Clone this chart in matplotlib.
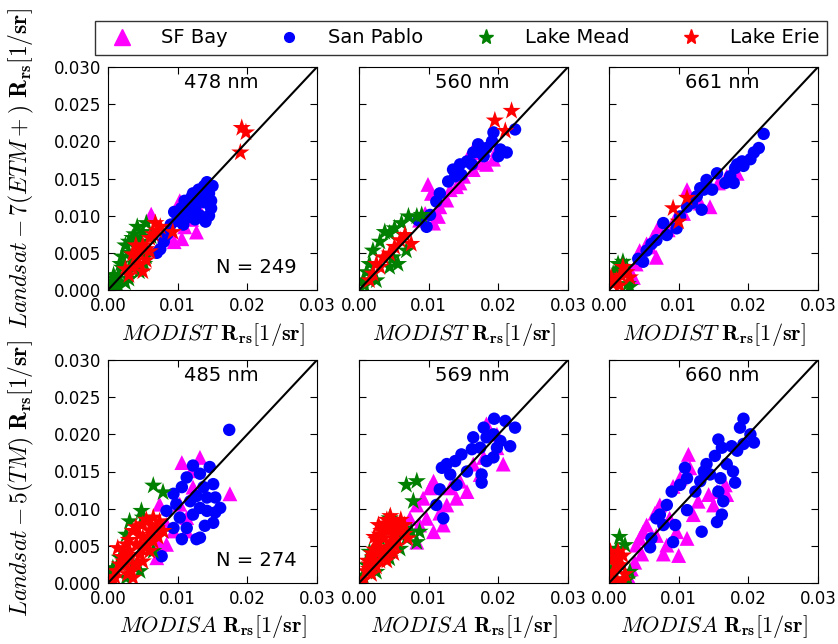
import matplotlib
matplotlib.use('Agg')
import matplotlib.pyplot as plt
import numpy as np
from matplotlib.ticker import FormatStrFormatter
from matplotlib.lines import Line2D

# values in units of 1e-3 sr^-1, (MODIS, Landsat) pairs
sfbay_478 = [(6.2, 10.2), (10.6, 6.9), (12.7, 7.8), (10.3, 12.0), (9.0, 8.0), (8.5, 7.0),
             (11.0, 8.5), (12.0, 9.5), (13.0, 11.0), (10.5, 10.8), (9.5, 6.5)]
sanpablo_478 = [(9.0, 8.8), (9.5, 10.5), (10.0, 9.8), (10.5, 11.0), (11.0, 12.0), (11.2, 10.5),
                (11.8, 11.5), (12.0, 12.5), (12.5, 11.0), (12.8, 12.0), (13.0, 13.5), (13.5, 12.8),
                (13.8, 14.0), (14.2, 14.5), (14.5, 13.0), (14.8, 12.0), (14.5, 10.0), (14.0, 9.2),
                (13.2, 10.0), (12.5, 9.5), (11.5, 9.8), (10.8, 8.8), (8.0, 6.5), (7.5, 5.5),
                (8.5, 7.5), (15.0, 14.0), (14.8, 11.0), (13.8, 11.8), (12.2, 13.0), (10.0, 9.3),
                (7.0, 5.0)]
mead_478 = [(0.2, 0.3), (0.5, 1.0), (1.0, 1.5), (1.2, 0.8), (1.5, 2.0), (2.0, 3.0), (2.0, 4.5),
            (2.5, 6.0), (3.0, 6.5), (3.5, 7.0), (3.8, 7.5), (4.2, 8.5), (5.5, 9.0), (5.0, 7.8),
            (4.5, 6.0), (3.0, 5.0), (3.5, 4.2), (4.0, 3.5), (4.5, 2.5), (3.0, 1.5), (2.5, 1.0),
            (1.5, 0.5), (1.0, 0.3), (5.5, 4.5), (5.2, 3.5), (0.8, 2.0), (3.0, 2.5), (1.8, 3.5),
            (4.8, 6.5), (6.2, 7.2)]
erie_478 = [(19.2, 21.8), (19.8, 21.2), (19.0, 18.5), (9.3, 7.8), (3.0, 2.0), (3.5, 3.0),
            (4.0, 4.5), (4.5, 5.0), (5.0, 6.0), (5.5, 5.5), (6.0, 7.0), (6.5, 7.5), (7.0, 8.0),
            (7.5, 8.5), (3.5, 4.8), (4.5, 3.5), (5.0, 2.5), (5.5, 4.0), (2.5, 2.8), (4.0, 6.0),
            (6.8, 9.0), (6.0, 5.2)]

sfbay_560 = [(9.9, 14.2), (10.4, 13.0), (11.4, 9.9), (10.7, 9.0), (12.6, 12.1), (14.0, 13.9),
             (15.5, 17.6), (16.2, 18.5), (17.4, 17.1), (18.3, 16.9), (19.3, 17.6), (19.8, 18.9),
             (11.6, 11.2), (13.1, 13.5), (15.0, 15.3), (16.4, 16.2), (8.7, 9.4), (9.5, 10.3),
             (14.5, 14.4)]
sanpablo_560 = [(22.4, 21.6), (19.3, 21.2), (19.1, 20.0), (20.3, 18.9), (21.2, 18.5), (18.3, 19.1),
                (17.4, 18.5), (16.4, 18.5), (15.5, 17.3), (14.5, 16.9), (13.5, 16.2), (12.8, 14.6),
                (13.8, 15.3), (14.7, 15.5), (16.2, 16.9), (17.9, 18.0), (20.0, 18.0), (11.6, 13.0),
                (11.1, 11.9), (10.2, 10.1), (9.7, 8.5), (8.5, 9.4), (17.1, 19.6)]
mead_560 = [(7.1, 9.9), (6.1, 9.0), (5.1, 8.3), (4.4, 7.6), (3.7, 7.8), (3.0, 6.5), (2.0, 5.3),
            (1.5, 3.5), (1.1, 2.4), (0.6, 1.3), (0.8, 0.6), (2.5, 1.3), (4.4, 3.1), (5.6, 3.5),
            (6.8, 5.3), (4.9, 4.4), (8.3, 9.9), (9.0, 10.1)]
erie_560 = [(21.9, 24.1), (19.5, 22.8), (21.0, 21.4), (7.5, 6.2), (6.6, 7.4), (5.1, 5.8),
            (3.5, 4.4), (3.0, 3.1), (2.0, 2.2), (4.4, 4.9), (5.9, 6.7), (1.5, 1.3), (2.5, 3.5)]

sfbay_661 = [(11.2, 13.5), (12.1, 12.1), (14.5, 11.2), (10.7, 10.3), (9.5, 9.6), (7.1, 8.5),
             (6.3, 7.1), (5.9, 5.8), (6.8, 4.4), (4.4, 5.3), (3.9, 3.5), (3.0, 2.6), (3.5, 1.7),
             (16.9, 15.3), (18.4, 15.7), (15.7, 14.4), (13.1, 11.7), (8.5, 8.1), (5.4, 6.2)]
sanpablo_661 = [(22.2, 21.0), (21.5, 19.1), (20.8, 18.5), (20.3, 17.6), (19.1, 17.3), (18.4, 16.9),
                (18.1, 16.4), (17.9, 14.4), (16.7, 14.4), (15.5, 15.7), (14.0, 14.8), (14.8, 13.5),
                (13.6, 13.5), (13.1, 13.7), (12.6, 12.6), (13.3, 10.8), (11.9, 11.7), (11.2, 11.2),
                (10.2, 9.9), (9.7, 8.3), (7.8, 9.0), (8.3, 7.4), (6.8, 6.7), (6.1, 6.2), (5.4, 5.3),
                (4.9, 3.8), (4.2, 4.2), (19.3, 16.7), (17.4, 15.3)]
mead_661 = [(0.6, 2.2), (1.3, 3.5), (2.0, 3.8), (2.5, 3.1), (2.7, 0.8), (0.3, 1.3), (1.5, 2.6),
            (3.0, 0.4)]
erie_661 = [(9.2, 11.0), (11.2, 12.4), (10.0, 9.2), (0.6, 0.8), (1.1, 1.3), (1.8, 1.9), (2.5, 2.4),
            (3.0, 1.7), (1.5, 0.6), (0.3, 1.7), (2.0, 3.1)]

sfbay_485 = [(10.6, 16.2), (13.2, 16.9), (17.5, 12.0), (7.4, 10.6), (8.4, 7.9), (9.4, 7.0),
             (7.4, 5.2), (7.0, 3.4), (11.3, 8.8), (12.0, 15.1), (11.3, 7.0), (8.4, 5.2), (6.5, 7.0),
             (10.3, 10.6), (12.2, 12.9)]
sanpablo_485 = [(17.4, 20.6), (12.2, 15.8), (14.6, 15.6), (11.3, 14.2), (13.2, 14.7), (10.6, 12.9),
                (9.4, 12.0), (13.7, 12.9), (15.1, 13.3), (12.7, 11.7), (11.8, 11.0), (14.2, 11.5),
                (15.4, 11.5), (13.2, 10.1), (12.2, 9.2), (14.2, 9.7), (15.4, 9.5), (15.1, 8.1),
                (13.9, 7.7), (13.2, 6.1), (12.7, 5.9), (10.6, 5.9), (8.4, 9.7), (7.7, 3.6),
                (10.3, 8.8), (9.4, 7.4), (11.3, 7.4), (9.8, 10.6), (16.1, 10.1)]
mead_485 = [(6.5, 13.1), (7.9, 12.2), (4.8, 9.7), (3.1, 8.3), (5.0, 8.8), (2.6, 6.5), (1.7, 3.4),
            (0.7, 2.0), (0.5, 0.9), (6.5, 4.3), (7.9, 7.0), (3.6, 2.5), (2.6, 0.7), (4.6, 1.6)]
erie_485 = [(1.2, 1.6), (2.2, 2.9), (3.1, 4.3), (4.1, 5.2), (5.0, 6.1), (6.0, 7.0), (7.0, 7.4),
            (7.9, 7.0), (7.4, 8.3), (6.5, 8.8), (5.0, 7.9), (3.6, 7.0), (2.6, 5.2), (2.2, 4.3),
            (1.7, 2.5), (3.6, 0.7), (4.1, 2.5), (5.0, 2.9), (6.0, 4.3), (6.5, 5.6), (3.4, 1.6),
            (0.7, 0.5), (4.6, 3.8), (5.5, 5.2), (2.6, 2.5), (1.4, 4.7), (2.0, 3.5), (3.0, 5.8),
            (4.0, 7.5), (5.5, 8.5), (6.2, 7.8), (4.5, 6.5), (3.2, 3.5), (1.0, 0.8), (2.8, 1.2),
            (5.8, 6.2), (7.2, 6.2), (4.8, 4.6)]

sfbay_569 = [(11.6, 9.4), (12.1, 7.8), (10.7, 6.9), (8.3, 5.5), (8.7, 7.8), (9.7, 8.7),
             (10.7, 13.7), (10.2, 12.8), (9.2, 11.4), (8.3, 10.5), (7.3, 8.7), (14.0, 11.4),
             (15.5, 12.3), (17.4, 14.6), (19.8, 18.2), (20.7, 16.0), (17.9, 16.9), (16.4, 16.0),
             (18.3, 21.4), (13.1, 12.8), (14.5, 13.7), (12.6, 10.5), (19.8, 20.0)]
sanpablo_569 = [(19.4, 22.1), (22.4, 20.9), (21.0, 21.8), (17.9, 20.9), (19.3, 20.0), (21.7, 18.4),
                (20.3, 19.1), (18.3, 19.6), (16.4, 19.6), (17.4, 18.2), (19.3, 16.9), (18.3, 16.4),
                (16.2, 18.0), (14.7, 17.3), (13.8, 16.4), (12.6, 16.0), (11.9, 15.5), (15.5, 15.0),
                (17.6, 14.6), (17.6, 13.5), (13.1, 14.6), (11.6, 12.6), (11.1, 10.5), (12.1, 8.7),
                (14.0, 13.2), (19.8, 18.2)]
mead_569 = [(6.8, 13.2), (8.3, 13.7), (7.8, 11.0), (4.4, 8.7), (5.4, 6.9), (6.3, 7.3), (7.5, 6.9),
            (8.3, 5.5), (5.9, 4.6), (3.0, 6.0), (1.5, 4.2), (1.1, 2.4), (0.6, 1.0), (2.5, 1.5),
            (4.4, 3.3), (6.8, 6.0), (2.0, 3.3), (8.7, 6.9)]
erie_569 = [(1.0, 1.6), (1.5, 2.5), (2.0, 3.5), (2.2, 4.5), (2.8, 5.5), (3.0, 6.5), (3.5, 7.5),
            (4.0, 8.5), (4.5, 9.0), (5.0, 8.2), (5.5, 7.8), (6.0, 7.0), (6.5, 6.6), (7.0, 6.0),
            (5.0, 6.5), (4.5, 5.5), (4.0, 4.8), (3.5, 4.0), (3.0, 3.0), (2.5, 2.2), (1.8, 1.2),
            (4.0, 3.0), (5.0, 4.0), (2.5, 5.8), (3.2, 7.0), (4.2, 7.0), (5.5, 5.8), (0.7, 0.5),
            (1.2, 3.0), (3.5, 6.0), (6.0, 8.5), (1.8, 4.0), (2.2, 6.2), (2.8, 7.8), (3.8, 8.0),
            (4.8, 7.2), (3.0, 4.6), (2.0, 2.8), (1.4, 1.9), (6.5, 7.8), (5.2, 5.0), (3.8, 3.6)]

sfbay_660 = [(11.4, 17.3), (11.6, 15.5), (10.2, 14.1), (9.2, 13.0), (7.3, 10.5), (6.6, 9.4),
             (5.4, 7.8), (4.9, 6.9), (4.4, 6.0), (3.9, 5.1), (3.7, 2.8), (4.7, 3.9), (7.8, 3.9),
             (10.0, 3.7), (8.3, 5.1), (9.7, 6.9), (12.1, 9.2), (12.8, 11.0), (14.3, 11.9),
             (15.5, 12.3), (16.7, 13.2), (16.9, 11.9), (15.0, 10.5), (11.2, 6.0), (6.8, 6.4),
             (8.7, 8.7), (2.7, 1.0), (3.2, 1.9)]
sanpablo_660 = [(19.3, 22.1), (18.8, 20.9), (20.3, 20.0), (20.8, 18.9), (19.3, 18.7), (17.6, 18.4),
                (18.4, 17.8), (15.7, 19.3), (16.2, 18.2), (15.2, 17.1), (14.0, 16.0), (14.5, 14.6),
                (16.9, 16.0), (17.8, 15.0), (18.1, 13.5), (16.0, 14.1), (15.7, 12.3), (16.4, 11.0),
                (16.2, 9.2), (15.5, 8.2), (13.3, 6.9), (10.9, 15.5), (11.2, 14.1), (10.2, 13.2),
                (9.0, 12.3), (8.3, 10.5), (7.3, 9.2), (6.8, 8.7), (7.8, 7.8), (9.5, 7.8),
                (11.2, 9.8), (12.4, 12.3), (13.1, 13.7), (9.2, 5.5), (5.9, 4.8), (6.1, 6.0),
                (13.6, 15.0)]
mead_660 = [(1.5, 6.2), (1.1, 4.6), (2.3, 5.1), (0.6, 3.3), (3.0, 1.5), (2.7, 0.5), (0.3, 1.5)]
erie_660 = [(0.3, 0.3), (0.6, 1.5), (1.1, 2.4), (1.5, 3.3), (2.0, 3.7), (0.6, 3.3), (1.3, 4.2),
            (1.8, 2.4), (2.3, 1.2), (1.1, 0.5), (2.0, 0.3), (0.2, 4.2)]

sites = ['SF Bay', 'San Pablo', 'Lake Mead', 'Lake Erie']
colors = ['#ff00ff', '#0000ff', '#008000', '#ff0000']
markers = ['^', 'o', '*', '*']
sizes = [115, 80, 190, 190]

bands_top = ['478 nm', '560 nm', '661 nm']
bands_bottom = ['485 nm', '569 nm', '660 nm']
n_top = 249
n_bottom = 274

panels = [
    [sfbay_478, sanpablo_478, mead_478, erie_478],
    [sfbay_560, sanpablo_560, mead_560, erie_560],
    [sfbay_661, sanpablo_661, mead_661, erie_661],
    [sfbay_485, sanpablo_485, mead_485, erie_485],
    [sfbay_569, sanpablo_569, mead_569, erie_569],
    [sfbay_660, sanpablo_660, mead_660, erie_660],
]

plt.rcParams['mathtext.fontset'] = 'cm'

fig = plt.figure(figsize=(8.38, 6.44), dpi=100)
W, H = 838., 644.
lefts = [108, 359, 609]
tops = [67, 360]
aw, ah = 209, 223

for k, groups in enumerate(panels):
    row, col = k // 3, k % 3
    ax = fig.add_axes([lefts[col] / W, 1 - (tops[row] + ah) / H, aw / W, ah / H])
    for pts, c, m, s in zip(groups, colors, markers, sizes):
        arr = np.array(pts) * 1e-3
        ax.scatter(arr[:, 0], arr[:, 1], s=s, c=c, marker=m, edgecolors='none', zorder=2)
    ax.plot([0, 0.03], [0, 0.03], color='k', lw=1.5, zorder=3)
    ax.set_xlim(0, 0.03)
    ax.set_ylim(0, 0.03)
    ax.set_xticks([0, 0.01, 0.02, 0.03])
    ax.set_yticks([0, 0.005, 0.01, 0.015, 0.02, 0.025, 0.03])
    ax.xaxis.set_major_formatter(FormatStrFormatter('%.2f'))
    ax.yaxis.set_major_formatter(FormatStrFormatter('%.3f'))
    ax.tick_params(direction='in', top=True, right=True, length=5, labelsize=12, pad=5)
    if col > 0:
        ax.set_yticklabels([])
    band = bands_top[col] if row == 0 else bands_bottom[col]
    ax.text(0.54, 0.93, band, transform=ax.transAxes, ha='center', va='center', fontsize=14)
    if col == 0:
        n = n_top if row == 0 else n_bottom
        ax.text(0.71, 0.1, 'N = %d' % n, transform=ax.transAxes, ha='center', va='center', fontsize=14)
    if row == 0:
        ax.set_xlabel(r'$MODIST\ \mathbf{R_{rs}}[1/\mathbf{sr}]$', fontsize=16, labelpad=4)
    else:
        ax.set_xlabel(r'$MODISA\ \mathbf{R_{rs}}[1/\mathbf{sr}]$', fontsize=16, labelpad=4)
    if col == 0:
        if row == 0:
            ax.set_ylabel(r'$Landsat-7(ETM+)\ \mathbf{R_{rs}}[1/\mathbf{sr}]$', fontsize=17)
            ax.yaxis.set_label_coords(-0.345, 0.545)
        else:
            ax.set_ylabel(r'$Landsat-5(TM)\ \mathbf{R_{rs}}[1/\mathbf{sr}]$', fontsize=17)
            ax.yaxis.set_label_coords(-0.345, 0.47)

handles = [Line2D([], [], ls='none', marker=m, color=c, markersize=ms)
           for m, c, ms in zip(markers, colors, [11, 7, 11, 11])]
leg = fig.legend(handles, sites, loc='upper center', bbox_to_anchor=(461 / W, 1 - 11 / H),
                 ncol=4, fontsize=14, frameon=True, fancybox=False, edgecolor='k',
                 handlelength=2.0, handletextpad=1.0, columnspacing=2.2, borderpad=0.4)
leg.get_frame().set_linewidth(1.0)

fig.savefig('out.png', dpi=100)
